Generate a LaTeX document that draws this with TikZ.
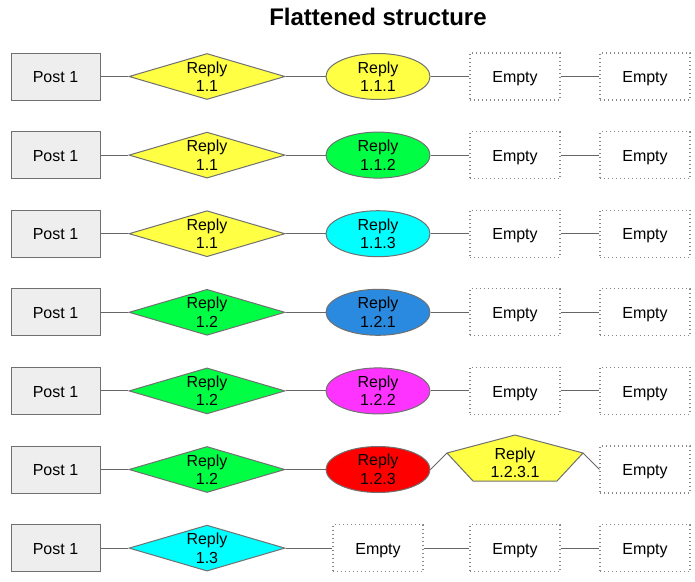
\documentclass[tikz,border=0pt]{standalone}
\usepackage{fontspec}
\setmainfont{Liberation Sans}
\usetikzlibrary{shapes.geometric, positioning}

\definecolor{postgray}{HTML}{EEEEEE}
\definecolor{edgegray}{HTML}{707070}
\definecolor{dotgray}{HTML}{888888}
\definecolor{linkgray}{HTML}{666666}
\definecolor{ryellow}{HTML}{FFFF44}
\definecolor{rgreen}{HTML}{00FF44}
\definecolor{rcyan}{HTML}{00FFFF}
\definecolor{rblue}{HTML}{2A8AE0}
\definecolor{rmagenta}{HTML}{FF33FF}
\definecolor{rred}{HTML}{FF0000}

\begin{document}
\begin{tikzpicture}[
    x=1pt, y=-1pt,
    font=\fontsize{16}{18.5}\selectfont,
    post/.style={
        rectangle,
        draw=edgegray,
        fill=postgray,
        line width=1pt,
        minimum width=89pt,
        minimum height=47pt,
        text height=12.5pt,
        text depth=0pt
    },
    reply/.style={
        diamond,
        draw=edgegray,
        line width=1pt,
        shape aspect=3.4,
        inner sep=0pt,
        minimum width=156pt,
        minimum height=46pt,
        align=center
    },
    subreply/.style={
        ellipse,
        draw=edgegray,
        line width=1pt,
        inner sep=0pt,
        minimum width=104pt,
        minimum height=46pt,
        align=center
    },
    empty/.style={
        rectangle,
        draw=dotgray,
        line width=1.1pt,
        dash pattern=on 1pt off 3pt,
        minimum width=90pt,
        minimum height=47pt,
        text height=12.5pt,
        text depth=0pt
    },
    link/.style={draw=linkgray, line width=0.9pt}
]
    \useasboundingbox (0,0) rectangle (695,581);

    \node [font=\bfseries\fontsize{24}{28}\selectfont] (title) at (378,17) {Flattened structure};

    % row 1
    \node [post] (post1) at (55.5,76.5) {Post 1};
    \node [reply, fill=ryellow] (r1a) at (207,76.5) {Reply\\1.1};
    \node [subreply, fill=ryellow] (r111) at (378,76.5) {Reply\\1.1.1};
    \node [empty] (e1c) at (515,76.5) {Empty};
    \node [empty] (e1d) at (645,76.5) {Empty};

    % row 2
    \node [post] (post2) at (55.5,155.1) {Post 1};
    \node [reply, fill=ryellow] (r2a) at (207,155.1) {Reply\\1.1};
    \node [subreply, fill=rgreen] (r112) at (378,155.1) {Reply\\1.1.2};
    \node [empty] (e2c) at (515,155.1) {Empty};
    \node [empty] (e2d) at (645,155.1) {Empty};

    % row 3
    \node [post] (post3) at (55.5,233.7) {Post 1};
    \node [reply, fill=ryellow] (r3a) at (207,233.7) {Reply\\1.1};
    \node [subreply, fill=rcyan] (r113) at (378,233.7) {Reply\\1.1.3};
    \node [empty] (e3c) at (515,233.7) {Empty};
    \node [empty] (e3d) at (645,233.7) {Empty};

    % row 4
    \node [post] (post4) at (55.5,312.3) {Post 1};
    \node [reply, fill=rgreen] (r4a) at (207,312.3) {Reply\\1.2};
    \node [subreply, fill=rblue] (r121) at (378,312.3) {Reply\\1.2.1};
    \node [empty] (e4c) at (515,312.3) {Empty};
    \node [empty] (e4d) at (645,312.3) {Empty};

    % row 5
    \node [post] (post5) at (55.5,390.9) {Post 1};
    \node [reply, fill=rgreen] (r5a) at (207,390.9) {Reply\\1.2};
    \node [subreply, fill=rmagenta] (r122) at (378,390.9) {Reply\\1.2.2};
    \node [empty] (e5c) at (515,390.9) {Empty};
    \node [empty] (e5d) at (645,390.9) {Empty};

    % row 6
    \node [post] (post6) at (55.5,469.5) {Post 1};
    \node [reply, fill=rgreen] (r6a) at (207,469.5) {Reply\\1.2};
    \node [subreply, fill=rred] (r123) at (378,469.5) {Reply\\1.2.3};
    \coordinate (p1231-top) at (515,435);
    \coordinate (p1231-left) at (447,453);
    \coordinate (p1231-right) at (583,453);
    \coordinate (p1231-bl) at (473,481);
    \coordinate (p1231-br) at (557,481);
    \filldraw [fill=ryellow, draw=edgegray, line width=1pt, line join=round]
        (p1231-top) -- (p1231-right) -- (p1231-br) -- (p1231-bl) -- (p1231-left) -- cycle;
    \node [align=center] (r1231) at (515,463) {Reply\\1.2.3.1};
    \node [empty] (e6d) at (645,469.5) {Empty};

    % row 7
    \node [post] (post7) at (55.5,548.1) {Post 1};
    \node [reply, fill=rcyan] (r7a) at (207,548.1) {Reply\\1.3};
    \node [empty] (e7b) at (378,548.1) {Empty};
    \node [empty] (e7c) at (515,548.1) {Empty};
    \node [empty] (e7d) at (645,548.1) {Empty};

    \path [link] (post1) -- (r1a) (r1a) -- (r111) (r111) -- (e1c) (e1c) -- (e1d);
    \path [link] (post2) -- (r2a) (r2a) -- (r112) (r112) -- (e2c) (e2c) -- (e2d);
    \path [link] (post3) -- (r3a) (r3a) -- (r113) (r113) -- (e3c) (e3c) -- (e3d);
    \path [link] (post4) -- (r4a) (r4a) -- (r121) (r121) -- (e4c) (e4c) -- (e4d);
    \path [link] (post5) -- (r5a) (r5a) -- (r122) (r122) -- (e5c) (e5c) -- (e5d);
    \path [link] (post6) -- (r6a) (r6a) -- (r123);
    \path [link] (r123.east) -- (p1231-left);
    \path [link] (p1231-right) -- (e6d.west);
    \path [link] (post7) -- (r7a) (r7a) -- (e7b) (e7b) -- (e7c) (e7c) -- (e7d);
\end{tikzpicture}
\end{document}
